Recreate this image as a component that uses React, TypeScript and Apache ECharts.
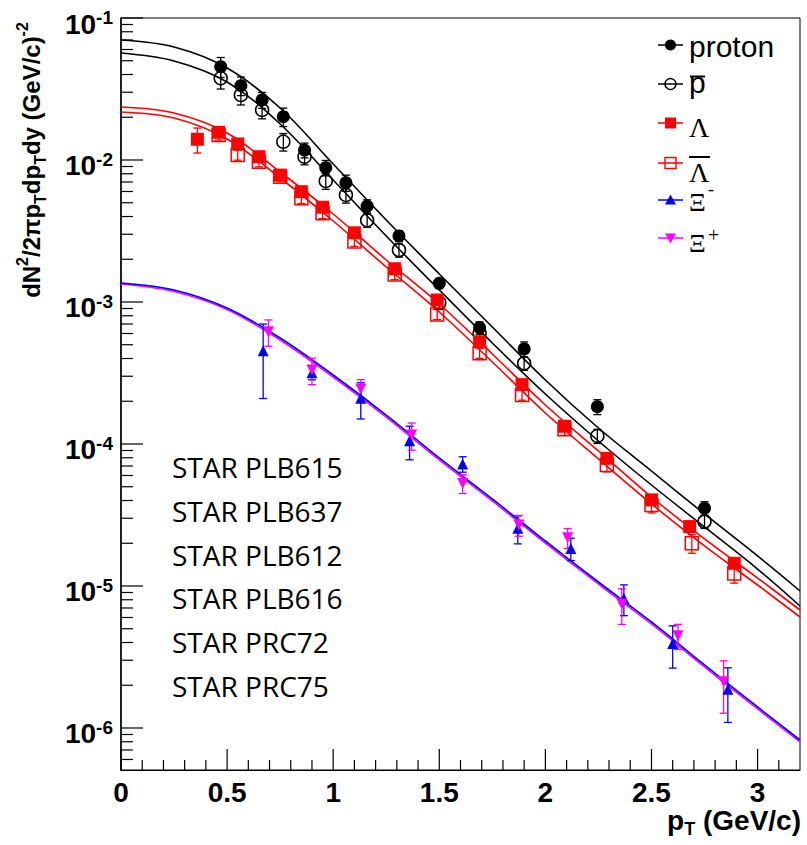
import React, { useEffect, useRef } from 'react';
import * as echarts from 'echarts';

// ---------- data ----------
const pBins = [0.47, 0.565, 0.665, 0.765, 0.865, 0.965, 1.06, 1.16, 1.31, 1.5, 1.69, 1.9, 2.245, 2.75];
const protonY = [0.0454, 0.0334, 0.0265, 0.0202, 0.01175, 0.00883, 0.00692, 0.00474, 0.00292, 0.001354, 0.000659, 0.000467, 0.000183, 0.0000353];
const protonErr = [0.0073, 0.005, 0.0034, 0.003, 0.0014, 0.0011, 0.0009, 0.0005, 0.00026, 0.00011, 0.000066, 0.000056, 0.000022, 0.0000039];
const pbarY = [0.0376, 0.0287, 0.0225, 0.01346, 0.01055, 0.00711, 0.00567, 0.00376, 0.00232, 0.000989, 0.000603, 0.00037, 0.0001138, 0.0000284];
const pbarErr = [0.006, 0.0043, 0.003, 0.0019, 0.0013, 0.0009, 0.0007, 0.0004, 0.00025, 0.0001, 0.00006, 0.00004, 0.000013, 0.000003];

const lambdaX = [0.36, 0.46, 0.55, 0.65, 0.75, 0.85, 0.95, 1.1, 1.29, 1.49, 1.69, 1.89, 2.09, 2.29, 2.5, 2.68, 2.89];
const lambdaY = [0.014, 0.01567, 0.01298, 0.01055, 0.00783, 0.00598, 0.00465, 0.00307, 0.001714, 0.001033, 0.000525, 0.000262, 0.0001334, 0.0000793, 0.0000404, 0.0000262, 0.00001445];
const lambdaErr = [0.0028, 0.00078, 0.00065, 0.00053, 0.00039, 0.0003, 0.00023, 0.00015, 0.000086, 0.000052, 0.000026, 0.000013, 0.0000067, 0.000004, 0.0000024, 0.0000016, 0.0000009];

const aLambdaX = [0.46, 0.55, 0.65, 0.75, 0.85, 0.95, 1.1, 1.29, 1.49, 1.69, 1.89, 2.09, 2.29, 2.5, 2.69, 2.89];
const aLambdaY = [0.015, 0.01084, 0.00973, 0.00762, 0.00537, 0.00421, 0.00267, 0.001563, 0.000818, 0.000436, 0.0002214, 0.0001271, 0.0000711, 0.0000372, 0.00002, 0.00001227];
const aLambdaErr = [0.0012, 0.00087, 0.00078, 0.0006, 0.00043, 0.00034, 0.00021, 0.000125, 0.000065, 0.000035, 0.000018, 0.000012, 0.0000075, 0.0000045, 0.000003, 0.0000018];

const xiMX = [0.67, 0.9, 1.13, 1.36, 1.61, 1.87, 2.12, 2.37, 2.6, 2.86];
const xiMY = [4.54e-4, 3.18e-4, 2.1e-4, 1.054e-4, 7.23e-5, 2.55e-5, 1.84e-5, 8.18e-6, 3.94e-6, 1.874e-6];
const xiMErr = [2.45e-4, 3.5e-5, 6.0e-5, 2.8e-5, 9e-6, 5.7e-6, 3.3e-6, 2.0e-6, 1.3e-6, 7.8e-7];

const xiPX = [0.695, 0.9, 1.13, 1.37, 1.61, 1.875, 2.105, 2.36, 2.625, 2.84];
const xiPY = [6.18e-4, 3.32e-4, 2.44e-4, 1.155e-4, 5.28e-5, 2.69e-5, 2.19e-5, 7.46e-6, 4.47e-6, 2.12e-6];
const xiPErr = [1.3e-4, 7e-5, 4e-5, 2.5e-5, 8e-6, 4.5e-6, 3.5e-6, 2.1e-6, 9e-7, 8.5e-7];

// fit curves
const fitX = [0, 0.25, 0.5, 0.75, 1.0, 1.25, 1.5, 1.75, 2.0, 2.25, 2.5, 2.75, 3.0, 3.2];
const protonFit = [0.07, 0.06249, 0.04445, 0.02324, 0.009371, 0.00378, 0.001575, 0.0006666, 0.0002823, 0.0001296, 6.454e-5, 3.214e-5, 1.627e-5, 9.22e-6];
const pbarFit = [0.05668, 0.0498, 0.03542, 0.01793, 0.007231, 0.002916, 0.001215, 0.0005143, 0.0002249, 0.000105, 5.143e-5, 2.603e-5, 1.317e-5, 7.231e-6];
const lambdaFit = [0.02361, 0.02143, 0.01549, 0.008231, 0.004166, 0.001976, 0.0009681, 0.0004303, 0.0001882, 8.928e-5, 4.234e-5, 2.143e-5, 1.138e-5, 6.776e-6];
const aLambdaFit = [0.02178, 0.01976, 0.01406, 0.007469, 0.003719, 0.001764, 0.0008504, 0.000378, 0.0001653, 7.842e-5, 3.78e-5, 1.913e-5, 1.016e-5, 6.049e-6];
const xiMFit = [1.361e-3, 1.215e-3, 9.073e-4, 5.578e-4, 3.061e-4, 1.6e-4, 7.969e-5, 4.099e-5, 2.074e-5, 1.067e-5, 5.578e-6, 2.778e-6, 1.406e-6, 8.231e-7];
const xiPFit = [1.339e-3, 1.186e-3, 8.857e-4, 5.4e-4, 2.963e-4, 1.549e-4, 7.715e-5, 3.968e-5, 2.008e-5, 1.033e-5, 5.4e-6, 2.689e-6, 1.361e-6, 7.969e-7];

// axes
const X_MIN = 0;
const X_MAX = 3.2;
const Y_MIN = 5.06e-7;
const Y_MAX = 0.1;
const xMajorTicks = [0, 0.5, 1, 1.5, 2, 2.5, 3];
const xMinorTicks = [0.1, 0.2, 0.3, 0.4, 0.6, 0.7, 0.8, 0.9, 1.1, 1.2, 1.3, 1.4, 1.6, 1.7, 1.8, 1.9, 2.1, 2.2, 2.3, 2.4, 2.6, 2.7, 2.8, 2.9, 3.1];
const yMajorTicks = [1e-6, 1e-5, 1e-4, 1e-3, 1e-2, 1e-1];
const yMinorTicks = [
  6e-7, 7e-7, 8e-7, 9e-7,
  2e-6, 3e-6, 4e-6, 5e-6, 6e-6, 7e-6, 8e-6, 9e-6,
  2e-5, 3e-5, 4e-5, 5e-5, 6e-5, 7e-5, 8e-5, 9e-5,
  2e-4, 3e-4, 4e-4, 5e-4, 6e-4, 7e-4, 8e-4, 9e-4,
  2e-3, 3e-3, 4e-3, 5e-3, 6e-3, 7e-3, 8e-3, 9e-3,
  2e-2, 3e-2, 4e-2, 5e-2, 6e-2, 7e-2, 8e-2, 9e-2,
];
const refLabels = ['STAR PLB615', 'STAR PLB637', 'STAR PLB612', 'STAR PLB616', 'STAR PRC72', 'STAR PRC75'];

const SANS = 'Liberation Sans, Arial, Helvetica, sans-serif';
const SERIF = 'Liberation Serif, Times New Roman, serif';

function zip(xs: number[], ys: number[]) {
  return xs.map((x, i) => [x, ys[i]]);
}
function zip3(xs: number[], ys: number[], es: number[]) {
  return xs.map((x, i) => [x, ys[i], es[i]]);
}

function fitSeries(ys: number[], color: string) {
  return {
    type: 'line',
    data: zip(fitX, ys),
    showSymbol: false,
    smooth: 0.35,
    silent: true,
    z: 2,
    lineStyle: { color, width: 1.6 },
  };
}

function errSeries(xs: number[], ys: number[], es: number[], color: string) {
  return {
    type: 'custom',
    silent: true,
    z: 3,
    encode: { x: 0, y: 1 },
    data: zip3(xs, ys, es),
    renderItem: (params: any, api: any) => {
      const x = api.value(0);
      const y = api.value(1);
      const e = api.value(2);
      const lo = api.coord([x, Math.max(y - e, 1e-9)]);
      const hi = api.coord([x, y + e]);
      const cap = 4;
      const st = { stroke: color, lineWidth: 1.3 };
      return {
        type: 'group',
        children: [
          { type: 'line', shape: { x1: lo[0], y1: lo[1], x2: hi[0], y2: hi[1] }, style: st },
          { type: 'line', shape: { x1: lo[0] - cap, y1: lo[1], x2: lo[0] + cap, y2: lo[1] }, style: st },
          { type: 'line', shape: { x1: hi[0] - cap, y1: hi[1], x2: hi[0] + cap, y2: hi[1] }, style: st },
        ],
      };
    },
  };
}

function markerSeries(xs: number[], ys: number[], symbol: string, size: number, color: string, filled: boolean, rotate = 0) {
  return {
    type: 'scatter',
    data: zip(xs, ys),
    symbol,
    symbolSize: size,
    symbolRotate: rotate,
    silent: true,
    z: 4,
    itemStyle: filled
      ? { color, opacity: 1 }
      : { color: 'rgba(255,255,255,0)', borderColor: color, borderWidth: 1.5, opacity: 1 },
  };
}

function tickSeries(values: number[], axis: 'x' | 'y', len: number) {
  return {
    type: 'custom',
    silent: true,
    clip: false,
    z: 5,
    encode: { x: 0, y: 1 },
    data: axis === 'x' ? values.map((v) => [v, Y_MIN]) : values.map((v) => [X_MIN, v]),
    renderItem: (params: any, api: any) => {
      const p = api.coord([api.value(0), api.value(1)]);
      const shape =
        axis === 'x'
          ? { x1: p[0], y1: p[1], x2: p[0], y2: p[1] - len }
          : { x1: p[0], y1: p[1], x2: p[0] + len, y2: p[1] };
      return { type: 'line', shape, style: { stroke: '#000', lineWidth: 1.2 } };
    },
  };
}

function txt(x: number, y: number, text: string, font: string, align = 'left', extra: any = {}) {
  return {
    type: 'text',
    x,
    y,
    z: 10,
    style: {
      text,
      font,
      fill: '#000',
      textAlign: align,
      align,
      textVerticalAlign: 'middle',
      verticalAlign: 'middle',
      ...extra,
    },
  };
}

function legendGraphics() {
  const lx1 = 658;
  const lx2 = 683;
  const mx = 670.5;
  const tx = 689;
  const rows = [45, 84, 123, 163, 200, 238];
  const g: any[] = [];
  const colors = ['#000', '#000', '#ff0000', '#ff0000', '#0000ff', '#ff00ff'];
  rows.forEach((y, i) => {
    g.push({ type: 'line', z: 10, shape: { x1: lx1, y1: y, x2: lx2, y2: y }, style: { stroke: colors[i], lineWidth: 1.5 } });
  });
  g.push({ type: 'circle', z: 11, shape: { cx: mx, cy: rows[0], r: 5.5 }, style: { fill: '#000' } });
  g.push({ type: 'circle', z: 11, shape: { cx: mx, cy: rows[1], r: 5.5 }, style: { fill: 'rgba(255,255,255,0)', stroke: '#000', lineWidth: 1.4 } });
  g.push({ type: 'rect', z: 11, shape: { x: mx - 5.5, y: rows[2] - 5.5, width: 11, height: 11 }, style: { fill: '#ff0000' } });
  g.push({ type: 'rect', z: 11, shape: { x: mx - 5.5, y: rows[3] - 5.5, width: 11, height: 11 }, style: { fill: 'rgba(255,255,255,0)', stroke: '#ff0000', lineWidth: 1.4 } });
  g.push({ type: 'polygon', z: 11, shape: { points: [[mx - 5.5, rows[4] + 4.5], [mx + 5.5, rows[4] + 4.5], [mx, rows[4] - 5.5]] }, style: { fill: '#0000ff' } });
  g.push({ type: 'polygon', z: 11, shape: { points: [[mx - 5.5, rows[5] - 4.5], [mx + 5.5, rows[5] - 4.5], [mx, rows[5] + 5.5]] }, style: { fill: '#ff00ff' } });

  g.push(txt(tx, 46, 'proton', `30px ${SANS}`));
  g.push(txt(tx, 82, 'p', `30px ${SANS}`));
  g.push({ type: 'line', z: 10, shape: { x1: tx + 1, y1: 76.5, x2: tx + 16, y2: 76.5 }, style: { stroke: '#000', lineWidth: 2 } });
  g.push(txt(tx, 127, 'Λ', `28px ${SERIF}`));
  g.push({ type: 'line', z: 10, shape: { x1: tx, y1: 157, x2: tx + 21, y2: 157 }, style: { stroke: '#000', lineWidth: 2 } });
  g.push(txt(tx, 172, 'Λ', `28px ${SERIF}`));
  g.push(txt(tx, 202, 'Ξ', `26px ${SERIF}`));
  g.push(txt(tx + 19, 189, '-', `18px ${SERIF}`));
  g.push(txt(tx, 243, 'Ξ', `26px ${SERIF}`));
  g.push(txt(tx + 19, 235, '+', `20px ${SERIF}`));
  return g;
}

export default function App() {
  const ref = useRef<HTMLDivElement>(null);

  useEffect(() => {
    document.body.style.margin = '0';
    const chart = echarts.init(ref.current as HTMLDivElement, null, { renderer: 'svg' });

    const yLabelFmt = (v: number) => {
      const e = Math.log10(v);
      const r = Math.round(e);
      if (Math.abs(e - r) > 1e-6) return '';
      return `{b|10}{s|${r}}`;
    };
    const xLabelFmt = (v: number) => {
      if (Math.abs(v * 2 - Math.round(v * 2)) > 1e-6) return '';
      return String(Math.round(v * 10) / 10);
    };

    const graphics: any[] = [
      ...legendGraphics(),
      ...refLabels.map((t, i) => txt(172, 467 + i * 43.8, t, `28px Open Sans, sans-serif`)),
      {
        type: 'text',
        x: 31,
        y: 160,
        rotation: Math.PI / 2,
        z: 10,
        style: {
          text: '{a|dN}{sp|2}{a|/2πp}{sb|T}{a|dp}{sb|T}{a|dy (GeV/c)}{sp|-2}',
          align: 'center',
          textAlign: 'center',
          verticalAlign: 'middle',
          textVerticalAlign: 'middle',
          fill: '#000',
          rich: {
            a: { fontSize: 24, fontWeight: 'bold', fontFamily: SANS, lineHeight: 34, verticalAlign: 'middle', fill: '#000' },
            sp: { fontSize: 16, fontWeight: 'bold', fontFamily: SANS, lineHeight: 20, verticalAlign: 'top', fill: '#000' },
            sb: { fontSize: 16, fontWeight: 'bold', fontFamily: SANS, lineHeight: 18, verticalAlign: 'bottom', fill: '#000' },
          },
        },
      },
      {
        type: 'text',
        x: 801,
        y: 820,
        z: 10,
        style: {
          text: '{a|p}{sb|T}{a| (GeV/c)}',
          align: 'right',
          textAlign: 'right',
          verticalAlign: 'middle',
          textVerticalAlign: 'middle',
          fill: '#000',
          rich: {
            a: { fontSize: 28, fontWeight: 'bold', fontFamily: SANS, lineHeight: 36, verticalAlign: 'middle', fill: '#000' },
            sb: { fontSize: 18, fontWeight: 'bold', fontFamily: SANS, lineHeight: 20, verticalAlign: 'bottom', fill: '#000' },
          },
        },
      },
    ];

    const option: any = {
      animation: false,
      backgroundColor: '#ffffff',
      grid: {
        left: 121,
        top: 18,
        right: 7,
        bottom: 75,
        show: true,
        borderColor: '#000',
        borderWidth: 1,
        backgroundColor: 'rgba(0,0,0,0)',
      },
      xAxis: {
        type: 'value',
        min: X_MIN,
        max: X_MAX,
        interval: 0.5,
        axisLine: { show: true, onZero: false, lineStyle: { color: '#000', width: 1.2 } },
        axisTick: { show: false },
        minorTick: { show: false },
        splitLine: { show: false },
        axisLabel: {
          formatter: xLabelFmt,
          color: '#000',
          fontSize: 28,
          fontWeight: 'bold',
          fontFamily: SANS,
          margin: 8,
          showMinLabel: true,
          showMaxLabel: true,
        },
      },
      yAxis: {
        type: 'log',
        logBase: 10,
        min: Y_MIN,
        max: Y_MAX,
        axisLine: { show: true, onZero: false, lineStyle: { color: '#000', width: 1.5 } },
        axisTick: { show: false },
        minorTick: { show: false },
        splitLine: { show: false },
        axisLabel: {
          formatter: yLabelFmt,
          margin: 8,
          padding: [12, 0, 0, 0],
          showMinLabel: true,
          showMaxLabel: true,
          rich: {
            b: { fontSize: 28, fontWeight: 'bold', fontFamily: SANS, color: '#000', lineHeight: 32, verticalAlign: 'middle' },
            s: { fontSize: 19, fontWeight: 'bold', fontFamily: SANS, color: '#000', lineHeight: 20, verticalAlign: 'top' },
          },
        },
      },
      graphic: graphics,
      series: [
        fitSeries(protonFit, '#000'),
        fitSeries(pbarFit, '#000'),
        fitSeries(lambdaFit, '#ff0000'),
        fitSeries(aLambdaFit, '#ff0000'),
        fitSeries(xiPFit, '#ff00ff'),
        fitSeries(xiMFit, '#0000ff'),
        errSeries(pBins, protonY, protonErr, '#000'),
        errSeries(pBins, pbarY, pbarErr, '#000'),
        errSeries(lambdaX, lambdaY, lambdaErr, '#ff0000'),
        errSeries(aLambdaX, aLambdaY, aLambdaErr, '#ff0000'),
        errSeries(xiMX, xiMY, xiMErr, '#0000ff'),
        errSeries(xiPX, xiPY, xiPErr, '#ff00ff'),
        markerSeries(pBins, protonY, 'circle', 13, '#000', true),
        markerSeries(pBins, pbarY, 'circle', 13, '#000', false),
        markerSeries(lambdaX, lambdaY, 'rect', 13, '#ff0000', true),
        markerSeries(aLambdaX, aLambdaY, 'rect', 13, '#ff0000', false),
        markerSeries(xiMX, xiMY, 'triangle', 11, '#0000ff', true),
        markerSeries(xiPX, xiPY, 'triangle', 11, '#ff00ff', true, 180),
        tickSeries(xMajorTicks, 'x', 21),
        tickSeries(xMinorTicks, 'x', 10),
        tickSeries(yMajorTicks, 'y', 22),
        tickSeries(yMinorTicks, 'y', 12),
      ],
    };

    chart.setOption(option);
    return () => chart.dispose();
  }, []);

  return <div ref={ref} style={{ width: 807, height: 845 }} />;
}
